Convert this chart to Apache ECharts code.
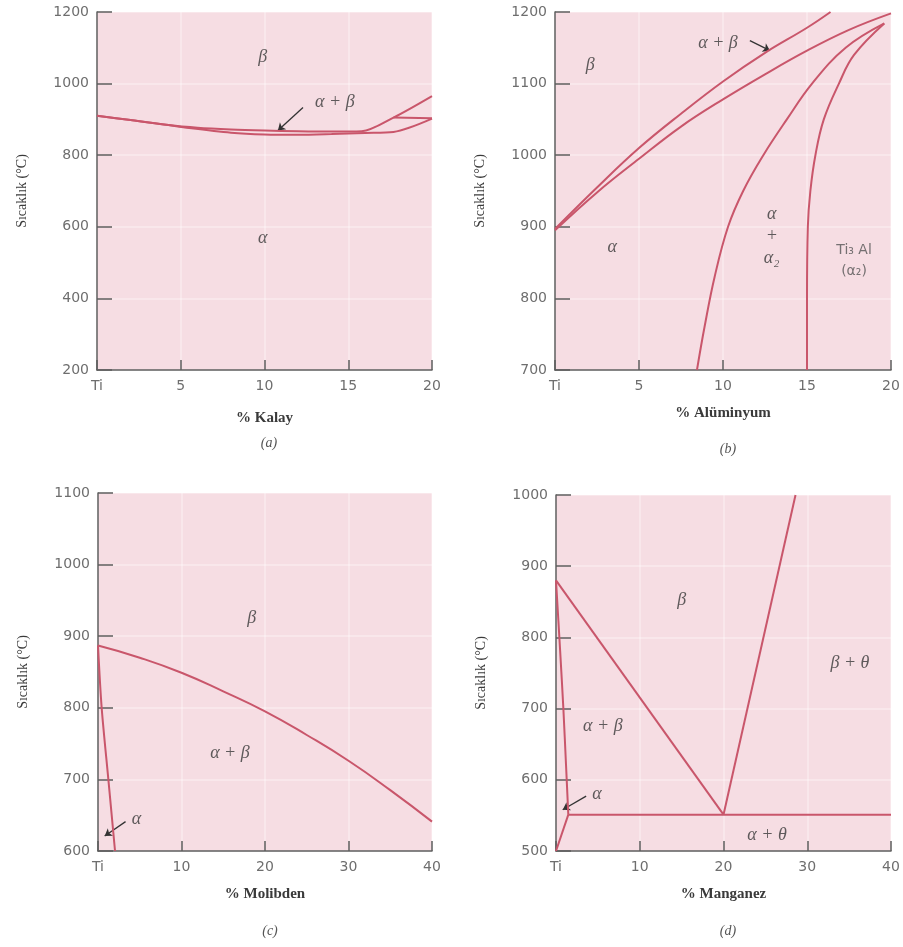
<!DOCTYPE html>
<html>
<head>
<meta charset="utf-8">
<script src="https://cdn.jsdelivr.net/npm/echarts@6/dist/echarts.min.js"></script>
<style>
  html, body { margin: 0; padding: 0; background: #fff; }
  #main { width: 903px; height: 947px; }
</style>
</head>
<body>
<div id="main"></div>
<script>
// (a) Ti - Kalay
var aBeta = [[0, 910], [2, 898], [4, 886], [6, 877], [8, 872], [10, 869], [12, 867], [14, 866], [15.8, 867], [17.7, 905], [20, 965]]
var aAlpha = [[0, 910], [2, 898], [4, 886], [5.5, 876], [8, 863], [10, 858], [12, 857], [14, 859], [16, 862], [17.7, 865], [20, 902]]
var aMid = [[17.7, 905], [20, 903]]
var aLabels = [{ value: [9.9, 1074], name: 'β' }, { value: [9.9, 569], name: 'α' }, { value: [14.2, 948], name: 'α + β' }]
var aArrow = [[12.3, 933], [10.8, 869]]

// (b) Ti - Alüminyum
var bBeta = [[0, 897], [2.5, 955], [5, 1010], [7.5, 1058], [10, 1103], [12.5, 1143], [15, 1178], [16.4, 1200]]
var bAlpha = [[0, 895], [2.5, 948], [5, 995], [7.5, 1040], [10, 1078], [12.5, 1113], [15, 1146], [17.5, 1175], [20, 1198]]
var bAlpha2a = [[8.45, 700], [8.9, 760], [9.5, 830], [10.3, 900], [11.2, 950], [12.4, 1000], [13.8, 1050], [15.3, 1100], [17.3, 1150], [19.6, 1184]]
var bAlpha2b = [[15, 700], [15, 800], [15.05, 900], [15.2, 950], [15.5, 1000], [16, 1050], [16.9, 1100], [17.8, 1140], [19.6, 1184]]
var bLabels = [{ value: [2.1, 1126], name: 'β' }, { value: [3.4, 872], name: 'α' }, { value: [12.9, 887], name: 'α\n+\nα₂' }, { value: [9.7, 1157], name: 'α + β' }]
var bTi3Al = [{ value: [17.8, 867], name: 'Ti₃ Al' }, { value: [17.8, 838], name: '(α₂)' }]
var bArrow = [[11.6, 1160], [12.8, 1146]]

// (c) Ti - Molibden
var cBeta = [[0, 887], [5, 870], [10, 849], [15, 823], [20, 795], [25, 762], [30, 726], [35, 685], [40, 641]]
var cAlpha = [[0, 887], [0.44, 800], [1.24, 700], [2.04, 600]]
var cLabels = [{ value: [18.4, 925], name: 'β' }, { value: [15.8, 736], name: 'α + β' }, { value: [4.6, 644], name: 'α' }]
var cArrow = [[3.3, 641], [0.8, 621]]

// (d) Ti - Manganez
var dBeta1 = [[0, 880], [20, 551]]
var dBeta2 = [[20, 551], [28.6, 1000]]
var dEutectoid = [[1.47, 551], [40, 551]]
var dAlpha = [[0, 880], [0.5, 780], [0.88, 700], [1.2, 620], [1.47, 551]]
var dAlphaLow = [[1.47, 551], [0, 500]]
var dLabels = [{ value: [15, 852], name: 'β' }, { value: [35.1, 764], name: 'β + θ' }, { value: [5.6, 675], name: 'α + β' }, { value: [4.9, 580], name: 'α' }, { value: [25.2, 522], name: 'α + θ' }]
var dArrow = [[3.6, 577], [0.8, 558]]

var xNames = ['% Kalay', '% Alüminyum', '% Molibden', '% Manganez']
var captions = ['(a)', '(b)', '(c)', '(d)']
var xMax = [20, 20, 40, 40]
var xStep = [5, 5, 10, 10]
var yMin = [200, 700, 600, 500]
var yMax = [1200, 1200, 1100, 1000]
var yStep = [200, 100, 100, 100]

var lineColor = '#c9566b'
var pink = '#f6dde3'

var grids = [
  { left: 97, top: 12, width: 335, height: 358 },
  { left: 555, top: 12, width: 336, height: 358 },
  { left: 98, top: 493, width: 334, height: 358 },
  { left: 556, top: 495, width: 335, height: 356 }
]
var xNameGap = [41, 36, 36, 36]
var captionTop = [431, 437, 919, 919]
var captionLeft = [264, 723, 265, 723]

var myChart = echarts.init(document.getElementById('main'))

var xAxis = [], yAxis = [], series = [], titles = []
for (var i = 0; i < 4; i++) {
  grids[i].show = true
  grids[i].backgroundColor = pink
  grids[i].borderWidth = 0
  xAxis.push({
    type: 'value', gridIndex: i, min: 0, max: xMax[i], interval: xStep[i],
    name: xNames[i], nameLocation: 'middle', nameGap: xNameGap[i],
    nameTextStyle: { fontFamily: 'Liberation Serif', fontSize: 15, fontWeight: 'bold', color: '#3a3a3a' },
    axisLine: { lineStyle: { color: '#5e5e5e', width: 1.5 } },
    axisTick: { inside: true, length: 10, lineStyle: { color: '#5e5e5e', width: 1.5 } },
    axisLabel: {
      margin: 9, color: '#6e6e6e', fontFamily: 'DejaVu Sans', fontSize: 14,
      formatter: function (v) { return v === 0 ? 'Ti' : String(v) }
    },
    splitLine: { show: true, lineStyle: { color: 'rgba(255,255,255,0.3)', width: 2 } }
  })
  yAxis.push({
    type: 'value', gridIndex: i, min: yMin[i], max: yMax[i], interval: yStep[i],
    name: 'Sıcaklık (°C)', nameLocation: 'middle', nameGap: 68,
    nameTextStyle: { fontFamily: 'Liberation Serif', fontSize: 14, color: '#3a3a3a' },
    axisLine: { show: true, lineStyle: { color: '#5e5e5e', width: 1.5 } },
    axisTick: { show: true, inside: true, length: 15, lineStyle: { color: '#5e5e5e', width: 1.5 } },
    axisLabel: {
      margin: 8, color: '#6e6e6e', fontFamily: 'DejaVu Sans', fontSize: 14,
      formatter: function (v) { return String(v) }
    },
    splitLine: { show: true, lineStyle: { color: 'rgba(255,255,255,0.3)', width: 2 } }
  })
  titles.push({
    text: captions[i], left: captionLeft[i], top: captionTop[i], textAlign: 'center',
    textStyle: { fontFamily: 'Liberation Serif', fontStyle: 'italic', fontWeight: 'normal', fontSize: 14, color: '#555' }
  })
}

function curve(data, idx, smooth) {
  return {
    type: 'line', data: data, xAxisIndex: idx, yAxisIndex: idx,
    showSymbol: false, smooth: smooth, silent: true,
    lineStyle: { color: lineColor, width: 2 }
  }
}
function labels(data, idx, font, style) {
  return {
    type: 'scatter', data: data, xAxisIndex: idx, yAxisIndex: idx,
    symbolSize: 0, silent: true,
    label: {
      show: true, position: 'inside', formatter: '{b}',
      fontFamily: font, fontStyle: style, fontSize: 18, color: '#383838', lineHeight: 22
    }
  }
}
function arrow(coords, idx) {
  return {
    type: 'lines', coordinateSystem: 'cartesian2d', xAxisIndex: idx, yAxisIndex: idx,
    silent: true, symbol: ['none', 'arrow'], symbolSize: 7,
    lineStyle: { color: '#333', width: 1.3, opacity: 1 },
    data: [{ coords: coords }]
  }
}

series.push(curve(aBeta, 0, 0.3), curve(aAlpha, 0, 0.3), curve(aMid, 0, false))
series.push(labels(aLabels, 0, 'Liberation Serif', 'italic'), arrow(aArrow, 0))

series.push(curve(bBeta, 1, 0.4), curve(bAlpha, 1, 0.4), curve(bAlpha2a, 1, 0.4), curve(bAlpha2b, 1, 0.4))
series.push(labels(bLabels, 1, 'Liberation Serif', 'italic'), arrow(bArrow, 1))
var ti3 = labels(bTi3Al, 1, 'DejaVu Sans', 'normal')
ti3.label.fontSize = 14
ti3.label.color = '#555'
series.push(ti3)

series.push(curve(cBeta, 2, 0.5), curve(cAlpha, 2, 0.3))
series.push(labels(cLabels, 2, 'Liberation Serif', 'italic'), arrow(cArrow, 2))

series.push(curve(dBeta1, 3, false), curve(dBeta2, 3, false), curve(dEutectoid, 3, false), curve(dAlpha, 3, 0.3), curve(dAlphaLow, 3, false))
series.push(labels(dLabels, 3, 'Liberation Serif', 'italic'), arrow(dArrow, 3))

var option = {
  animation: false,
  title: titles,
  grid: grids,
  xAxis: xAxis,
  yAxis: yAxis,
  series: series
}
myChart.setOption(option)
</script>
</body>
</html>
